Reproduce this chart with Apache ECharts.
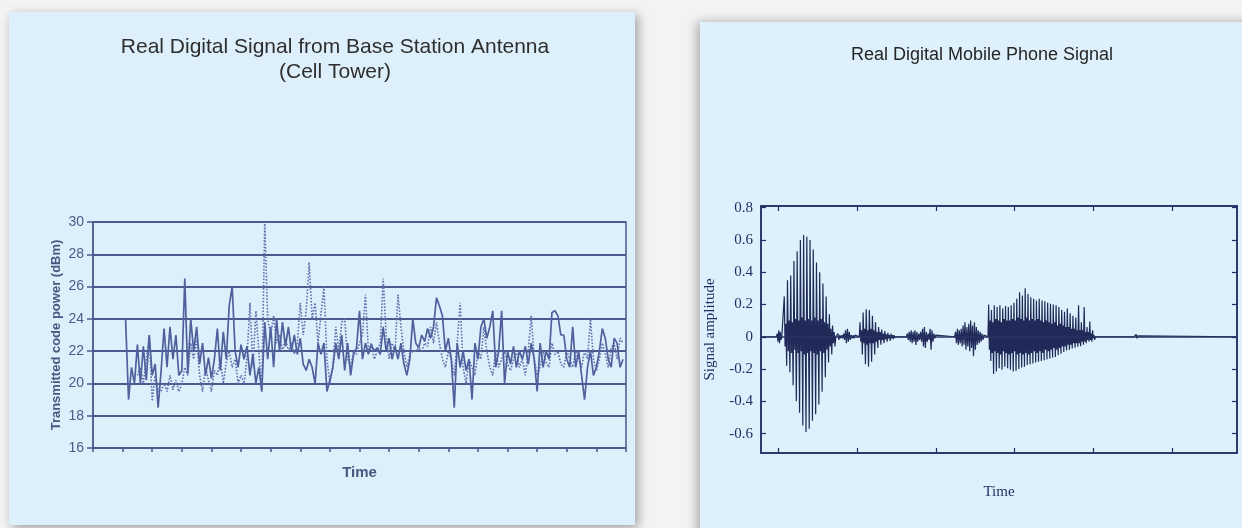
<!DOCTYPE html>
<html><head><meta charset="utf-8">
<script src="https://cdn.jsdelivr.net/npm/echarts@6/dist/echarts.min.js"></script>
<style>html,body{margin:0;padding:0;background:#f3f3f3}#c{width:1242px;height:528px}</style>
</head><body><div id="c"></div>
<script>
// ---------- Left chart: transmitted code power (dBm) ----------
const leftYTicks = [16, 18, 20, 22, 24, 26, 28, 30];
const solidStart = 1.1, solidStep = 0.1;
const solidValues = [24,19,21,20,22.4,20,22.3,20.2,23,20.5,
 21.2,18.5,20.8,23.4,21,23.5,21.5,23,20.5,20.8,
 26.5,20.6,24,22,23.5,21.2,22.5,20.5,21.6,20.3,
 21.5,23.4,20.8,23.2,21.5,24.8,26,22,21,22.4,
 21.5,22.3,20.5,21.8,20,21,19.5,23.8,21.5,23.5,
 21,24,22,23.8,22.3,23.5,22,23,21.8,22.8,
 21.2,20.8,21.5,21,20,22.5,21.8,22.5,19.5,20.2,
 21,22.5,21.5,23,20.8,22.5,20.5,21.8,22.2,24.5,
 21.5,22.5,21.8,22.4,22,22.2,21.8,23.5,22,22.8,
 21.5,22.3,21.5,22.5,21.2,20.5,21.5,24,22.5,22.2,
 23,22.6,23.4,22.8,23.5,25.3,24.8,24.2,22,22.8,
 21.5,18.5,22.5,21,22,20.8,21.5,19,22.5,21.5,
 23.5,24,22.8,23.5,24.5,21,22,24.5,20,22,
 21.2,22.3,21,22,21.5,22.3,21.2,22.5,21.5,19.5,
 22.5,21,22,21.5,24.4,24.5,24.2,23,23,21.5,
 21,23.5,21,22,20.5,19,21,22,20.5,21,
 22,23.4,22.8,21.5,21,22.8,22.5,21,21.5];
const dottedStart = 1.5, dottedStep = 0.1;
const dottedValues = [20.5,21,20,21.5,23,18.9,20.5,19.5,19.5,20,
 19.5,20.5,19.6,20.2,19.5,20,21,20.5,22.5,21.5,
 22.8,20.5,19.5,21,20.2,19.5,20.8,20.5,21.5,20,
 21.3,22,21,21.5,20,20.5,20,21.5,25,21,
 24.5,22,19.5,30,24,23,24.2,22.5,23,22,
 22.8,22,22.5,21.8,22.5,25,23,24.5,27.5,24,
 25,22.5,24.3,26,21.5,20,21,23.5,22,23.8,
 24,21.5,21,22,21.8,22.5,23,25.5,22,22.5,
 21.5,22,22.5,26.5,23,21.5,22.5,22,25.5,23.5,
 22,21,21.8,22,22,22.2,22,22.5,22.3,23.5,
 22.5,23.8,22.5,21.5,21,22,21.5,20.5,22.5,25,
 21,20,21.5,21,20.5,22,21.5,23.5,22,21,
 20.5,22,21,21.5,22,21.2,20.8,21.5,22,21,
 21.5,20.5,22,24.2,21.5,20.5,21,22,21.3,21,
 22.5,21.8,22,21.2,21,22,21.5,21,22,21.5,
 21,22,21.5,24,21.5,20.8,21.5,22.5,21.8,21,
 22.2,22.5,21.5,22.8,22.5];

// ---------- Right chart: mobile phone signal amplitude ----------
const rightYTicks = [-0.6, -0.4, -0.2, 0, 0.2, 0.4, 0.6, 0.8];
const rightXTicks = [0, 1, 2, 3, 4, 5];
const blipA = [0.02,-0.03,0.04,-0.04,0.03,-0.02,0.01];
const burst1 = [0.25,-0.06,0.08,-0.18, 0.35,-0.09,0.1,-0.22, 0.38,-0.1,0.09,-0.3, 0.47,-0.08,0.11,-0.4,
 0.53,-0.1,0.1,-0.47, 0.6,-0.09,0.12,-0.55, 0.63,-0.11,0.1,-0.59, 0.62,-0.1,0.11,-0.57,
 0.6,-0.09,0.1,-0.52, 0.54,-0.1,0.12,-0.48, 0.46,-0.11,0.1,-0.42, 0.4,-0.09,0.11,-0.34,
 0.33,-0.1,0.09,-0.25, 0.25,-0.08,0.08,-0.16, 0.14,-0.06,0.05,-0.11, 0.07,-0.04,0.03,-0.06];
const blipB = [0.02,-0.02,0.01,-0.01,0.01,-0.01,0.02,-0.02,0.04,-0.04,0.05,-0.03,0.03,-0.02,0.01,-0.01,0.01,-0.01,0.01,0];
const burst2 = [0.09,-0.03,0.04,-0.11, 0.15,-0.04,0.05,-0.17, 0.17,-0.05,0.04,-0.185, 0.165,-0.04,0.05,-0.155,
 0.13,-0.04,0.04,-0.11, 0.09,-0.03,0.03,-0.07, 0.06,-0.02,0.03,-0.05, 0.045,-0.02,0.02,-0.04,
 0.035,-0.015,0.015,-0.03, 0.025,-0.01,0.01,-0.025, 0.02,-0.01,0.01,-0.015, 0.01,-0.005,0.005,-0.01];
const blipC = [0.02,-0.02,0.03,-0.03,0.04,-0.04,0.03,-0.03,0.04,-0.05,0.03,-0.03,0.02,-0.02,0.03,-0.03,
 0.05,-0.06,0.06,-0.07,0.03,-0.03,0.02,-0.02,0.05,-0.08,0.04,-0.03,0.02,-0.01,0.01,0];
const blipD = [0.03,-0.04,0.05,-0.05,0.04,-0.04,0.05,-0.06,0.07,-0.05,0.09,-0.08,0.06,-0.06,0.08,-0.09,
 0.1,-0.07,0.07,-0.12,0.09,-0.08,0.06,-0.05,0.04,-0.04,0.03,-0.03,0.02,-0.02,0.01,0];
const burst3 = [0.2,-0.08,0.1,-0.15, 0.165,-0.1,0.09,-0.23, 0.195,-0.09,0.11,-0.215, 0.185,-0.1,0.1,-0.195,
 0.195,-0.11,0.09,-0.205, 0.175,-0.09,0.11,-0.185, 0.19,-0.1,0.1,-0.195, 0.185,-0.11,0.1,-0.205,
 0.195,-0.1,0.11,-0.215, 0.21,-0.09,0.1,-0.21, 0.235,-0.11,0.12,-0.2, 0.275,-0.1,0.11,-0.19,
 0.255,-0.11,0.1,-0.185, 0.3,-0.1,0.12,-0.175, 0.265,-0.11,0.1,-0.17, 0.245,-0.1,0.11,-0.165,
 0.235,-0.09,0.1,-0.16, 0.225,-0.1,0.11,-0.155, 0.235,-0.09,0.1,-0.15, 0.225,-0.1,0.09,-0.145,
 0.22,-0.08,0.1,-0.14, 0.21,-0.09,0.09,-0.135, 0.205,-0.08,0.08,-0.13, 0.2,-0.07,0.09,-0.125,
 0.195,-0.08,0.07,-0.115, 0.185,-0.07,0.08,-0.105, 0.165,-0.06,0.07,-0.095, 0.155,-0.06,0.06,-0.085,
 0.175,-0.05,0.06,-0.08, 0.145,-0.05,0.05,-0.072, 0.13,-0.04,0.05,-0.068, 0.12,-0.04,0.04,-0.062,
 0.195,-0.04,0.04,-0.058, 0.09,-0.03,0.04,-0.05, 0.185,-0.03,0.03,-0.04, 0.06,-0.02,0.03,-0.03,
 0.095,-0.02,0.02,-0.03, 0.04,-0.01,0.01,-0.02];
const blipE = [0.01,-0.012,0.015,-0.01,0.006];
const segmentStarts = [-0.01, 0.08, 0.76, 1.04, 1.64, 2.25, 2.67, 4.52];
const segmentSteps  = [0.01, 0.0102, 0.012, 0.0098, 0.012, 0.012, 0.0089, 0.01];
const segments = [blipA, burst1, blipB, burst2, blipC, blipD, burst3, blipE];
const rightXMin = -0.215, rightXMax = 5.817;

function series(start, step, vals) {
  return vals.map((v, i) => [+(start + i * step).toFixed(4), v]);
}
const solidData = series(solidStart, solidStep, solidValues);
const dottedData = series(dottedStart, dottedStep, dottedValues);
const waveData = [[rightXMin, 0]];
segments.forEach((vals, k) => {
  const s = segmentStarts[k], st = segmentSteps[k];
  waveData.push([+(s - st).toFixed(4), 0]);
  series(s, st, vals).forEach(p => waveData.push(p));
  waveData.push([+(s + vals.length * st).toFixed(4), 0]);
});
waveData.push([rightXMax, 0]);

const L = '#4b5a8e', R = '#222f66';
const sans = 'Liberation Sans', serif = 'Liberation Serif';
const chart = echarts.init(document.getElementById('c'));
chart.setOption({
  animation: false,
  backgroundColor: '#f3f3f3',
  graphic: [
    {type: 'rect', z: -10, shape: {x: 9, y: 12, width: 626, height: 513},
     style: {fill: '#ddeffb', shadowBlur: 10, shadowColor: 'rgba(0,0,0,0.35)', shadowOffsetX: 3, shadowOffsetY: 3}},
    {type: 'rect', z: -10, shape: {x: 700, y: 22, width: 580, height: 540},
     style: {fill: '#ddf0fb', shadowBlur: 10, shadowColor: 'rgba(0,0,0,0.3)', shadowOffsetX: -3, shadowOffsetY: 0}}
  ],
  title: [
    {text: 'Real Digital Signal from Base Station Antenna\n(Cell Tower)', left: 330, top: 30, textAlign: 'center',
     textStyle: {fontFamily: sans, fontSize: 21, fontWeight: 'normal', color: '#2e2e2e', lineHeight: 25}},
    {text: 'Real Digital Mobile Phone Signal', left: 977, top: 41, textAlign: 'center',
     textStyle: {fontFamily: sans, fontSize: 18, fontWeight: 'normal', color: '#262626'}}
  ],
  grid: [
    {left: 93, top: 222, width: 533, height: 226, show: true, borderColor: L, borderWidth: 1.5, backgroundColor: 'transparent'},
    {left: 761, top: 206, width: 476, height: 247, show: true, borderColor: R, borderWidth: 1.5, backgroundColor: 'transparent'}
  ],
  xAxis: [
    {gridIndex: 0, type: 'value', min: 0, max: 18, interval: 1,
     axisLine: {show: true, onZero: false, lineStyle: {color: L, width: 1.5}},
     axisTick: {show: true, inside: false, length: 4, lineStyle: {color: L, width: 1.5}},
     axisLabel: {show: false}, splitLine: {show: false},
     name: 'Time', nameLocation: 'middle', nameGap: 17,
     nameTextStyle: {fontFamily: sans, fontWeight: 'bold', fontSize: 15, color: '#4a5580'}},
    {gridIndex: 1, type: 'value', min: rightXMin, max: rightXMax,
     axisLine: {show: true, onZero: false, lineStyle: {color: R, width: 1.5}},
     axisTick: {show: true, inside: true, length: 5, customValues: rightXTicks, lineStyle: {color: R, width: 1.2}},
     axisLabel: {show: false, customValues: rightXTicks}, splitLine: {show: false},
     name: 'Time', nameLocation: 'middle', nameGap: 32,
     nameTextStyle: {fontFamily: serif, fontSize: 15, color: R}},
    {gridIndex: 1, type: 'value', position: 'top', min: rightXMin, max: rightXMax,
     axisLine: {show: true, onZero: false, lineStyle: {color: R, width: 1.5}},
     axisTick: {show: true, inside: true, length: 5, customValues: rightXTicks, lineStyle: {color: R, width: 1.2}},
     axisLabel: {show: false, customValues: rightXTicks}, splitLine: {show: false}}
  ],
  yAxis: [
    {gridIndex: 0, type: 'value', min: 16, max: 30, interval: 2,
     axisLine: {show: true, onZero: false, lineStyle: {color: L, width: 1.5}},
     axisTick: {show: true, length: 6, lineStyle: {color: L, width: 1.5}},
     axisLabel: {fontFamily: sans, fontSize: 14, color: '#4d5a88', margin: 9, customValues: leftYTicks},
     splitLine: {show: true, lineStyle: {color: L, width: 2}},
     name: 'Transmitted code power (dBm)', nameLocation: 'middle', nameGap: 30,
     nameTextStyle: {fontFamily: sans, fontWeight: 'bold', fontSize: 13, color: '#4a5580'}},
    {gridIndex: 1, type: 'value', min: -0.72, max: 0.81,
     axisLine: {show: true, onZero: false, lineStyle: {color: R, width: 1.5}},
     axisTick: {show: true, inside: true, length: 5, customValues: rightYTicks, lineStyle: {color: R, width: 1.2}},
     axisLabel: {fontFamily: serif, fontSize: 15, color: R, margin: 8, customValues: rightYTicks},
     splitLine: {show: false},
     name: 'Signal amplitude', nameLocation: 'middle', nameGap: 43,
     nameTextStyle: {fontFamily: serif, fontSize: 15, color: R}},
    {gridIndex: 1, type: 'value', position: 'right', min: -0.72, max: 0.81,
     axisLine: {show: true, onZero: false, lineStyle: {color: R, width: 1.5}},
     axisTick: {show: true, inside: true, length: 5, customValues: rightYTicks, lineStyle: {color: R, width: 1.2}},
     axisLabel: {show: false, customValues: rightYTicks}, splitLine: {show: false}}
  ],
  series: [
    {type: 'line', xAxisIndex: 0, yAxisIndex: 0, data: dottedData, showSymbol: false,
     lineStyle: {type: 'dotted', color: '#5f70ac', width: 1.6}},
    {type: 'line', xAxisIndex: 0, yAxisIndex: 0, data: solidData, showSymbol: false,
     lineStyle: {color: '#4f609d', width: 1.7}},
    {type: 'line', xAxisIndex: 1, yAxisIndex: 1, data: waveData, showSymbol: false,
     lineStyle: {color: '#1f2a58', width: 1.2},
     markLine: {silent: true, symbol: 'none', label: {show: false},
       lineStyle: {type: 'solid', color: '#2a3566', width: 1.5}, data: [{yAxis: 0}]}}
  ]
});
</script></body></html>
